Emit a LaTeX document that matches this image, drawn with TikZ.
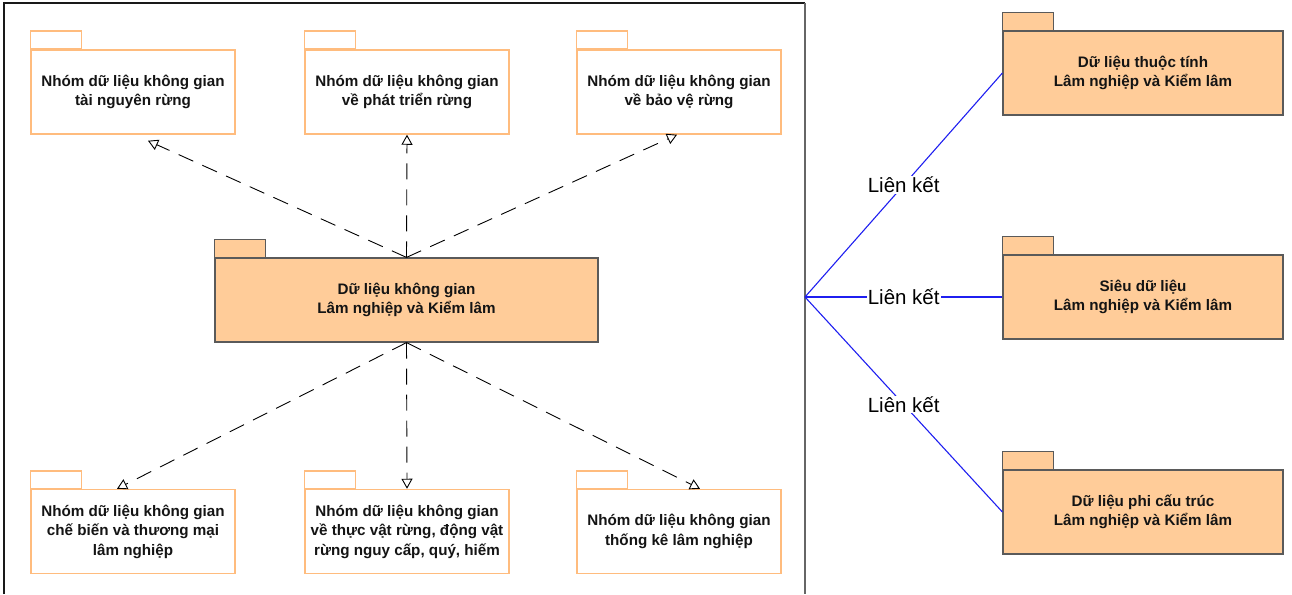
\documentclass[tikz,border=0pt]{standalone}
\usepackage{fontspec}
\setmainfont{Liberation Sans}
\usetikzlibrary{arrows.meta,calc}

\definecolor{pkgfill}{HTML}{FFCC99}
\definecolor{pkgedge}{HTML}{5A5A5A}
\definecolor{pkgline}{HTML}{FFBC7E}
\definecolor{linkblue}{HTML}{1F1FF0}

\tikzset{
  pkgbody/.style={rectangle, minimum height=84pt, inner sep=2pt, align=center,
    font=\bfseries\fontsize{15.2}{19.5}\selectfont, text=black!92},
  pkgwhite/.style={pkgbody, draw=pkgline, line width=1.5pt, fill=white, minimum width=204pt},
  pkgcore/.style={pkgbody, draw=pkgedge, line width=1.2pt, fill=pkgfill},
  tabwhite/.style={draw=pkgline, line width=1.5pt, fill=white},
  tabcore/.style={draw=pkgedge, line width=1.2pt, fill=pkgfill},
  depend/.style={draw=black, line width=0.9pt, dash pattern=on 16pt off 10pt,
    -{Triangle[open, length=10pt, width=11pt, line width=0.9pt]}},
  link/.style={draw=linkblue, line width=1.1pt},
  linklabel/.style={fill=white, inner sep=1pt, font=\fontsize{20.5}{24}\selectfont}
}

\begin{document}
\begin{tikzpicture}[x=1pt, y=-1pt]
\useasboundingbox (0,0) rectangle (1292,594);

% frame around the spatial data group (open at the bottom)
\draw[line width=1.2pt, black!90] (4,594) -- (4,3) -- (805,3);
\draw[line width=1.2pt, black!60] (805,3) -- (805,594);

% central package
\node[pkgcore, minimum width=383pt] (core) at (406.5,300)
  {Dữ liệu không gian\\Lâm nghiệp và Kiểm lâm};
\draw[tabcore] (core.north west) rectangle ++(51,-18);

% spatial data groups, upper row
\node[pkgwhite] (tl) at (133,92) {Nhóm dữ liệu không gian\\tài nguyên rừng};
\node[pkgwhite] (tm) at (407,92) {Nhóm dữ liệu không gian\\về phát triển rừng};
\node[pkgwhite] (tr) at (679,92) {Nhóm dữ liệu không gian\\về bảo vệ rừng};

% spatial data groups, lower row
\node[pkgwhite] (bl) at (133,531.5) {Nhóm dữ liệu không gian\\chế biến và thương mại\\lâm nghiệp};
\node[pkgwhite] (bm) at (407,531.5) {Nhóm dữ liệu không gian\\về thực vật rừng, động vật\\rừng nguy cấp, quý, hiếm};
\node[pkgwhite] (br) at (679,531.5) {Nhóm dữ liệu không gian\\thống kê lâm nghiệp};

\foreach \p in {tl,tm,tr,bl,bm,br}
  \draw[tabwhite] (\p.north west) rectangle ++(51,-18);

% dependencies from the central package
\draw[depend] (core.north) -- ($(tl.south)+(15,6)$);
\draw[depend] (core.north) -- (tm.south);
\draw[depend] (core.north) -- ($(tr.south)+(-2,0)$);
\draw[depend] (core.south) -- ($(bl.north)+(-16,0)$);
\draw[depend] (core.south) -- (bm.north);
\draw[depend] (core.south) -- ($(br.north)+(21,0)$);

% linked data packages on the right
\node[pkgcore, minimum width=280pt] (attr) at (1143,73) {Dữ liệu thuộc tính\\Lâm nghiệp và Kiểm lâm};
\node[pkgcore, minimum width=280pt] (meta) at (1143,297) {Siêu dữ liệu\\Lâm nghiệp và Kiểm lâm};
\node[pkgcore, minimum width=280pt] (unst) at (1143,512) {Dữ liệu phi cấu trúc\\Lâm nghiệp và Kiểm lâm};
\foreach \p in {attr,meta,unst}
  \draw[tabcore] (\p.north west) rectangle ++(51,-18);

% links from the frame edge
\coordinate (hub) at (805,297);
\draw[link] (hub) -- node[linklabel] {Liên kết} (attr.west);
\draw[link] (hub) -- node[linklabel] {Liên kết} (meta.west);
\draw[link] (hub) -- node[linklabel] {Liên kết} (unst.west);
\end{tikzpicture}
\end{document}
